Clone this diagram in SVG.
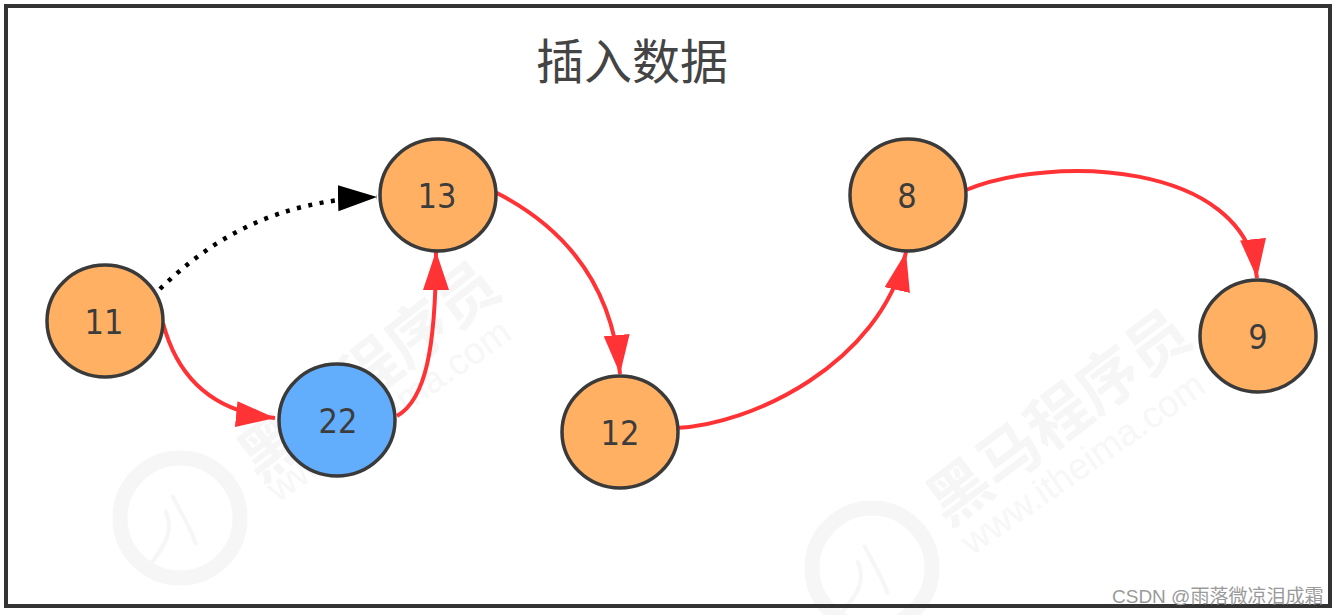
<svg xmlns="http://www.w3.org/2000/svg" width="1338" height="615" viewBox="0 0 1338 615">
<style>
.nd{stroke:#3a3a3a;stroke-width:3.5}
.o{fill:#ffb062}
.b{fill:#63adfd}
.lb{font-family:"DejaVu Sans",sans-serif;font-stretch:condensed;font-size:34px;fill:#3c3c3c;text-anchor:middle}
.r{fill:none;stroke:#ff3336;stroke-width:4;marker-end:url(#ra)}
.wm{font-family:"Noto Sans CJK SC",sans-serif;font-weight:700;font-size:62px;fill:#f6f6f6}
.wu{font-family:"Liberation Sans",sans-serif;font-size:37px;fill:#f7f7f7}
.lg{fill:none;stroke:#f6f6f6;stroke-width:15}
.lt{fill:none;stroke:#f6f6f6;stroke-width:4}
</style>
<defs>
<marker id="ra" markerUnits="userSpaceOnUse" markerWidth="42" markerHeight="30" refX="39" refY="13" orient="auto"><path d="M0 0L39 13L0 26Z" fill="#ff3336"/></marker>
<marker id="ka" markerUnits="userSpaceOnUse" markerWidth="42" markerHeight="30" refX="39" refY="13" orient="auto"><path d="M0 0L39 13L0 26Z" fill="#000"/></marker>
</defs>
<rect width="1338" height="615" fill="#fff"/>
<g id="watermarks">
<circle class="lg" cx="180" cy="518" r="60"/>
<path class="lt" d="M150 565C165 545 175 530 165 510M172 495C182 515 192 530 196 545"/>
<text class="wm" transform="translate(260 484) rotate(-38)">黑马程序员</text>
<text class="wu" transform="translate(278 503) rotate(-35)">www.itheima.com</text>
<circle class="lg" cx="872" cy="568" r="60"/>
<path class="lt" d="M842 612C857 595 867 580 857 560M864 545C874 565 884 580 888 595"/>
<text class="wm" transform="translate(948 528) rotate(-37)">黑马程序员</text>
<text class="wu" transform="translate(972 556) rotate(-35)">www.itheima.com</text>
</g>
<rect id="frame" x="6" y="6" width="1324" height="600" fill="none" stroke="#333" stroke-width="4"/>
<text id="title" x="632" y="79" text-anchor="middle" font-family="'Noto Sans CJK SC',sans-serif" font-size="48" fill="#444">插入数据</text>
<g id="connectors">
<path d="M160 289C210 240 275 200 377 197" fill="none" stroke="#000" stroke-width="4.5" stroke-dasharray="4 7.5" marker-end="url(#ka)"/>
<path class="r" d="M163 323C178 380 215 412 275 418"/>
<path class="r" d="M397 416C425 400 436 350 436 251"/>
<path class="r" d="M495 192C560 225 612 280 620 374"/>
<path class="r" d="M676 428C750 425 880 365 906 252"/>
<path class="r" d="M966 190C1050 155 1245 160 1257 278"/>
</g>
<g id="n11"><ellipse class="nd o" cx="105" cy="321" rx="58" ry="56"/><text class="lb" x="104" y="334">11</text></g>
<g id="n13"><ellipse class="nd o" cx="438" cy="195" rx="58" ry="56"/><text class="lb" x="437" y="208">13</text></g>
<g id="n22"><ellipse class="nd b" cx="337" cy="420" rx="58" ry="56"/><text class="lb" x="338" y="433">22</text></g>
<g id="n12"><ellipse class="nd o" cx="620" cy="432" rx="58" ry="56"/><text class="lb" x="620" y="445">12</text></g>
<g id="n8"><ellipse class="nd o" cx="908" cy="195" rx="58" ry="56"/><text class="lb" x="907" y="208">8</text></g>
<g id="n9"><ellipse class="nd o" cx="1258" cy="336" rx="58" ry="56"/><text class="lb" x="1258" y="349">9</text></g>
<text id="credit" x="1112" y="603" font-family="'Liberation Sans','Noto Sans CJK SC',sans-serif" font-size="19" fill="#9a9a9a">CSDN @雨落微凉泪成霜</text>
</svg>
